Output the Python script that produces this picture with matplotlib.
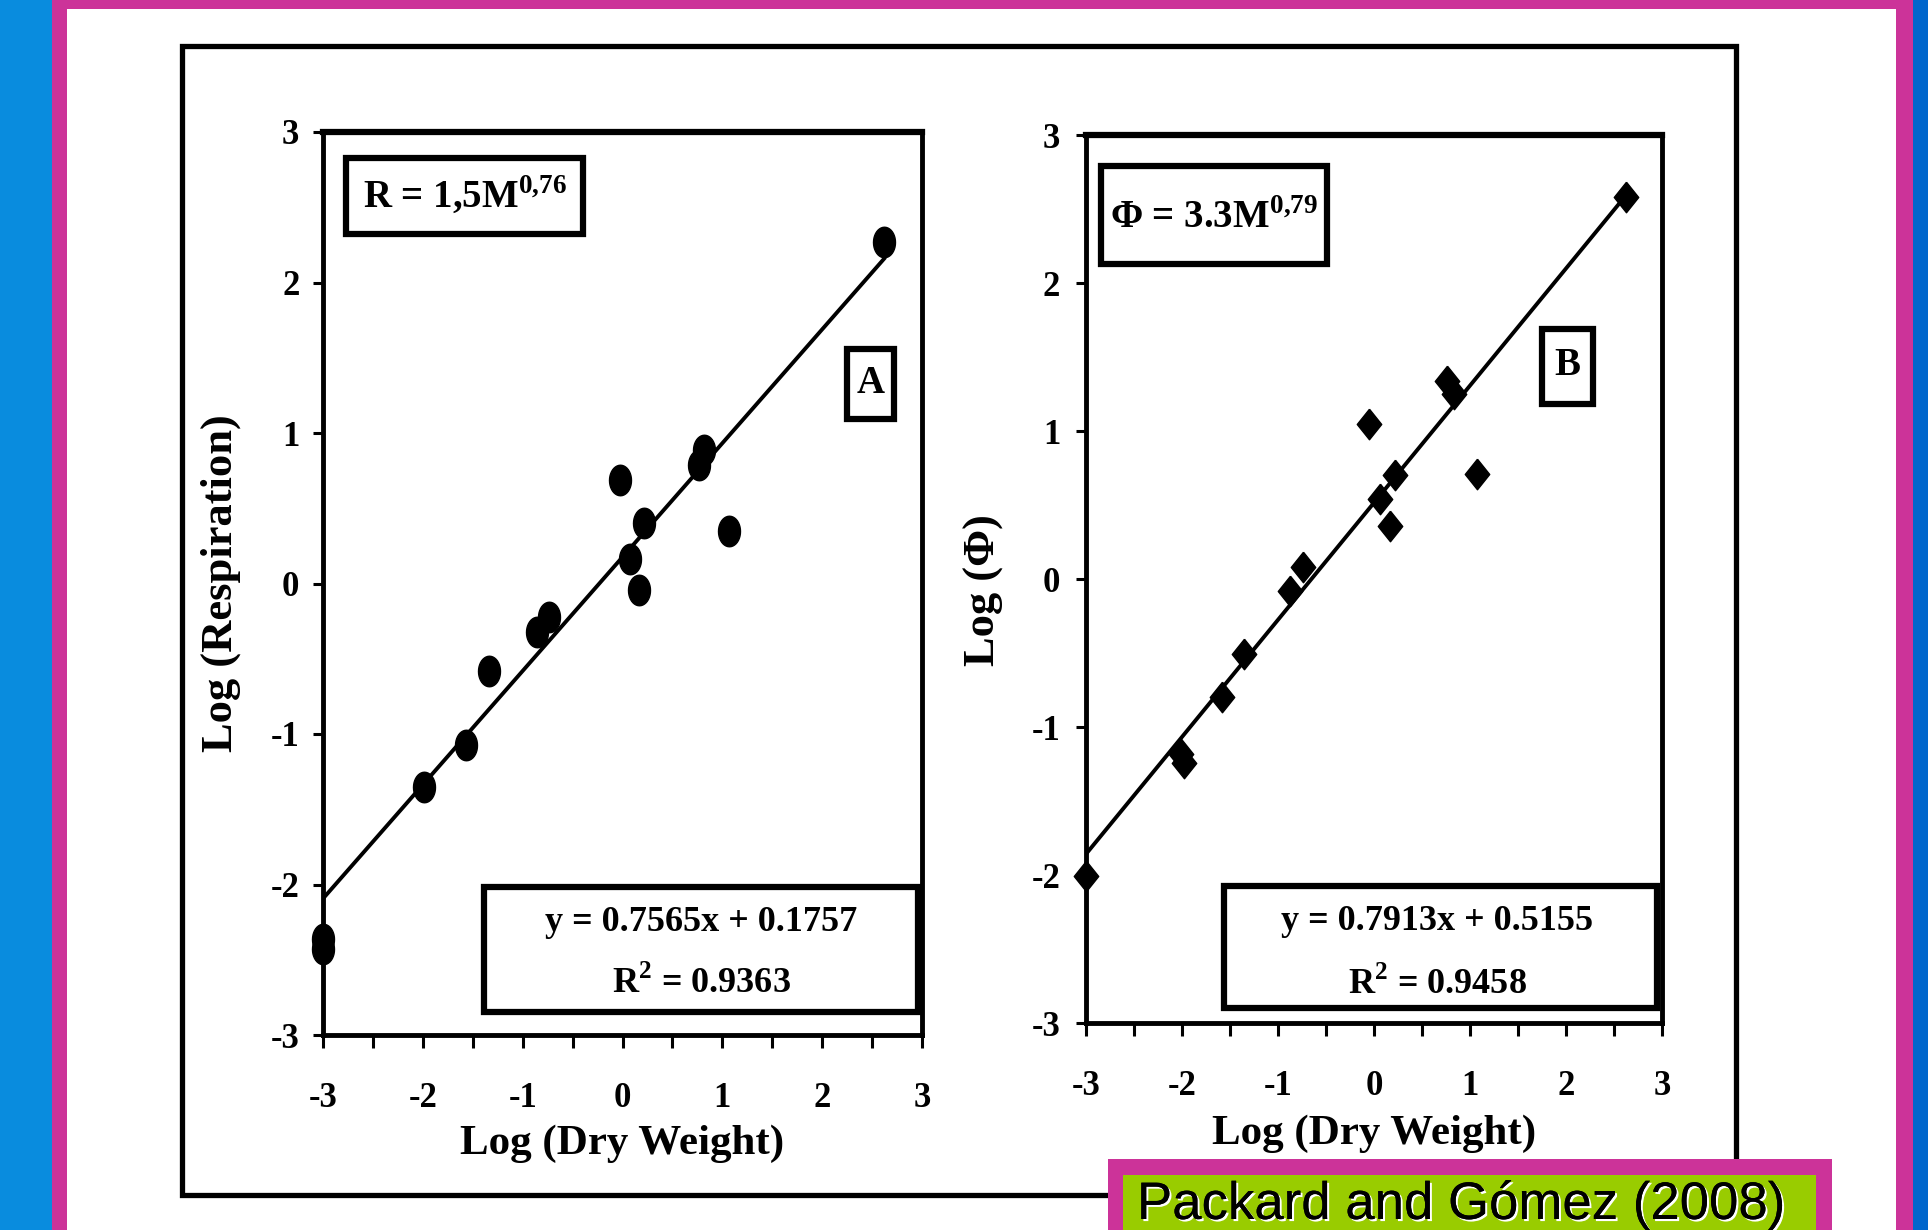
import numpy as np
import matplotlib
matplotlib.use("Agg")
import matplotlib.pyplot as plt
from matplotlib.patches import Rectangle
from matplotlib.path import Path
import matplotlib.patheffects as pe

W, H = 1928, 1230

# panel A - respiration vs dry weight (log-log)
resp_x = [-3.0, -3.0, -1.99, -1.57, -1.34, -0.86, -0.74, -0.03, 0.08, 0.17, 0.22, 0.77, 0.82, 1.07, 2.62]
resp_y = [-2.36, -2.43, -1.35, -1.07, -0.58, -0.32, -0.22, 0.69, 0.16, -0.04, 0.40, 0.79, 0.89, 0.35, 2.27]
resp_slope, resp_icpt, resp_r2 = 0.7565, 0.1757, 0.9363

# panel B - phi vs dry weight (log-log)
phi_x = [-3.0, -2.01, -1.98, -1.58, -1.35, -0.88, -0.74, -0.05, 0.06, 0.17, 0.22, 0.76, 0.83, 1.07, 2.63]
phi_y = [-2.01, -1.18, -1.24, -0.80, -0.51, -0.08, 0.08, 1.05, 0.54, 0.36, 0.70, 1.34, 1.25, 0.71, 2.58]
phi_slope, phi_icpt, phi_r2 = 0.7913, 0.5155, 0.9458

ticks = [-3, -2, -1, 0, 1, 2, 3]

plt.rcParams['font.family'] = ['Liberation Serif', 'DejaVu Serif']
plt.rcParams['font.weight'] = 'bold'
plt.rcParams['axes.labelweight'] = 'bold'
plt.rcParams['axes.unicode_minus'] = False

fig = plt.figure(figsize=(W / 100, H / 100), dpi=100)


def fig_box(x0, y0, x1, y1, **kw):
    """pixel box (top-left origin) -> rectangle in figure coords"""
    r = Rectangle((x0 / W, 1 - y1 / H), (x1 - x0) / W, (y1 - y0) / H,
                  transform=fig.transFigure, **kw)
    fig.add_artist(r)
    return r


# slide decoration
fig_box(0, 0, 52, H, color='#098CDE', lw=0, zorder=-2)
fig_box(52, 0, 67, H, color='#CC3399', lw=0, zorder=-2)
fig_box(1896, 0, 1913, H, color='#CC3399', lw=0, zorder=-2)
fig_box(1913, 0, W, H, color='#0066CC', lw=0, zorder=-2)
fig_box(52, 0, 1913, 9, color='#CC3399', lw=0, zorder=-2)
fig_box(182, 46, 1736, 1195, fill=False, ec='black', lw=3.8, zorder=-1)

ellipse_t = np.linspace(0, 2 * np.pi, 41)
dot = Path(np.column_stack([0.72 * np.cos(ellipse_t), np.sin(ellipse_t)]))
diamond = Path([(0, 1), (0.8, 0), (0, -1), (-0.8, 0), (0, 1)])


def style_axes(ax, ypad):
    ax.set_xlim(-3, 3)
    ax.set_ylim(-3, 3)
    ax.set_xticks(ticks)
    ax.set_yticks(ticks)
    ax.set_xticks(np.arange(-2.5, 3, 1), minor=True)
    ax.tick_params(axis='both', which='both', direction='out', width=2.2, labelsize=25)
    ax.tick_params(axis='x', which='both', length=9, pad=25)
    ax.tick_params(axis='y', length=7, pad=ypad)
    for s in ax.spines.values():
        s.set_linewidth(3.5)
    ax.spines['top'].set_linewidth(4.5)


def box(ax, x0, y0, x1, y1):
    ax.add_patch(Rectangle((x0, y0), x1 - x0, y1 - y0, transform=ax.transAxes,
                           fc='white', ec='black', lw=4.5, clip_on=False, zorder=5))


def panel(ax, xs, ys, marker, slope, icpt, r2, law, letter, ylabel, boxes, ypad):
    style_axes(ax, ypad)
    x_line = np.array([-3, max(xs)])
    ax.plot(x_line, slope * x_line + icpt, color='black', lw=2.8, zorder=3)
    ax.plot(xs, ys, ls='none', marker=marker, ms=22, color='black', clip_on=False, zorder=4)

    (lb, lt), (cb, ct), (eb, et) = boxes
    box(ax, *lb)
    ax.text(*lt, law, transform=ax.transAxes, ha='center', va='center', fontsize=28, zorder=6)
    box(ax, *cb)
    ax.text(*ct, letter, transform=ax.transAxes, ha='center', va='center', fontsize=28, zorder=6)
    box(ax, *eb)
    ax.text(et[0], et[1], 'y = %.4fx + %.4f' % (slope, icpt), transform=ax.transAxes,
            ha='center', va='center', fontsize=26, zorder=6)
    ax.text(et[0], et[2], 'R$^{\\mathregular{2}}$ = %.4f' % r2, transform=ax.transAxes,
            ha='center', va='center', fontsize=26, zorder=6)

    ax.set_xlabel('Log (Dry Weight)', fontsize=31, fontweight='bold')
    ax.set_ylabel(ylabel, fontsize=32, fontweight='bold')
    ax.xaxis.label.set_va('center')
    ax.yaxis.label.set_va('center')


axA = fig.add_axes([323 / W, 1 - 1035 / H, 599 / W, 903 / H])
panel(axA, resp_x, resp_y, dot, resp_slope, resp_icpt, resp_r2,
      'R = 1,5M$^{\\mathregular{0{,}76}}$', 'A', 'Log (Respiration)',
      [((0.038, 0.887, 0.434, 0.971), (0.237, 0.929)),
       ((0.874, 0.682, 0.954, 0.760), (0.914, 0.721)),
       ((0.268, 0.025, 0.993, 0.164), (0.631, 0.125, 0.057))], 10)
axA.xaxis.set_label_coords(0.5, -0.121)
axA.yaxis.set_label_coords(-0.170, 0.5)

axB = fig.add_axes([1086 / W, 1 - 1023 / H, 576 / W, 888 / H])
panel(axB, phi_x, phi_y, diamond, phi_slope, phi_icpt, phi_r2,
      '\u03a6 = 3.3M$^{\\mathregular{0{,}79}}$', 'B', 'Log (\u03a6)',
      [((0.026, 0.855, 0.419, 0.965), (0.223, 0.906)),
       ((0.792, 0.697, 0.880, 0.782), (0.836, 0.740)),
       ((0.240, 0.017, 0.991, 0.154), (0.61, 0.114, 0.044))], 11.5)
axB.xaxis.set_label_coords(0.5, -0.125)
axB.yaxis.set_label_coords(-0.177, 0.488)

# citation tag
fig_box(1108, 1159, 1832, H, color='#CC3399', lw=0, zorder=5)
fig_box(1123, 1175, 1816, H, color='#99CC00', lw=0, zorder=6)
fig.text(1137 / W, 1 - 1219 / H, 'Packard and G\u00f3mez (2008)', family=['Liberation Sans', 'DejaVu Sans'],
         fontweight='normal', fontsize=38, ha='left', va='baseline', zorder=7,
         path_effects=[pe.withSimplePatchShadow(offset=(1.5, -1.5), shadow_rgbFace='white', alpha=1.0),
                       pe.Normal()])

fig.savefig('out.png', dpi=100, facecolor='white')
